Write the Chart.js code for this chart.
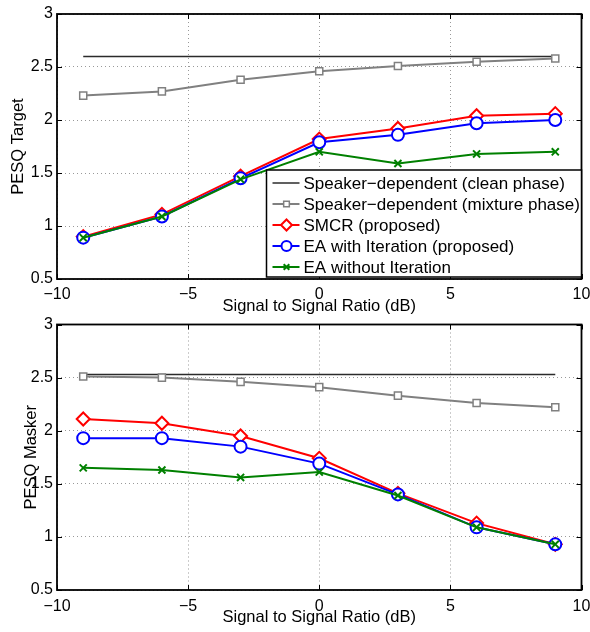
<!DOCTYPE html>
<html>
<head>
<meta charset="utf-8">
<script src="https://cdn.jsdelivr.net/npm/chart.js@4.4.0/dist/chart.umd.min.js"></script>
<style>
  html, body { margin: 0; padding: 0; background: #fff; }
  canvas { display: block; }
</style>
</head>
<body>
<canvas id="targetChart" width="590" height="316"></canvas>
<canvas id="maskerChart" width="590" height="316"></canvas>
<script>
// x positions (dB) and axis ticks
const snrValues = [-9, -6, -3, 0, 3, 6, 9];
const xTicks = [-10, -5, 0, 5, 10];
const xTickLabels = ['−10', '−5', '0', '5', '10'];
const yTicks = [0.5, 1, 1.5, 2, 2.5, 3];
const yTickLabels = ['0.5', '1', '1.5', '2', '2.5', '3'];

const seriesNames = [
  'Speaker−dependent (clean phase)',
  'Speaker−dependent (mixture phase)',
  'SMCR (proposed)',
  'EA with Iteration (proposed)',
  'EA without Iteration'
];

// PESQ Target (top panel)
const targetClean = [2.6, 2.6, 2.6, 2.6, 2.6, 2.6, 2.6];
const targetMixture = [2.23, 2.27, 2.38, 2.46, 2.51, 2.55, 2.58];
const targetSMCR = [0.9, 1.11, 1.47, 1.82, 1.92, 2.04, 2.06];
const targetEAIter = [0.89, 1.09, 1.45, 1.79, 1.86, 1.97, 2.0];
const targetEANoIter = [0.89, 1.09, 1.44, 1.70, 1.59, 1.68, 1.70];

// PESQ Masker (bottom panel)
const maskerClean = [2.53, 2.53, 2.53, 2.53, 2.53, 2.53, 2.53];
const maskerMixture = [2.51, 2.50, 2.46, 2.41, 2.33, 2.26, 2.22];
const maskerSMCR = [2.11, 2.07, 1.95, 1.74, 1.41, 1.13, 0.93];
const maskerEAIter = [1.93, 1.93, 1.85, 1.69, 1.40, 1.09, 0.93];
const maskerEANoIter = [1.65, 1.63, 1.56, 1.61, 1.39, 1.09, 0.93];

const FONT = "'Liberation Sans', Arial, Helvetica, sans-serif";

function toPoints(values) {
  return values.map((v, i) => ({ x: snrValues[i], y: v }));
}

function makeDatasets(clean, mixture, smcr, eaIter, eaNoIter) {
  return [
    { label: seriesNames[0], data: toPoints(clean), borderColor: '#2b2b2b', borderWidth: 1.5,
      pointRadius: 0, order: 5 },
    { label: seriesNames[1], data: toPoints(mixture), borderColor: '#808080', borderWidth: 2,
      pointStyle: 'rect', pointRadius: 5, pointBorderWidth: 1.5, pointBackgroundColor: '#fff', order: 4 },
    { label: seriesNames[2], data: toPoints(smcr), borderColor: '#ff0000', borderWidth: 2,
      pointStyle: 'rectRot', pointRadius: 6.5, pointBorderWidth: 2, pointBackgroundColor: '#fff', order: 3 },
    { label: seriesNames[3], data: toPoints(eaIter), borderColor: '#0000ff', borderWidth: 2,
      pointStyle: 'circle', pointRadius: 6, pointBorderWidth: 2, pointBackgroundColor: '#fff', order: 2 },
    { label: seriesNames[4], data: toPoints(eaNoIter), borderColor: '#008000', borderWidth: 2,
      pointStyle: 'crossRot', pointRadius: 5, pointBorderWidth: 2, order: 1 }
  ].map(d => Object.assign({ tension: 0, fill: false, pointBorderColor: d.borderColor }, d));
}

function drawLegend(chart) {
  const { ctx, chartArea: a } = chart;
  const rowH = 21;
  const datasets = chart.data.datasets;
  const w = 315, h = datasets.length * rowH + 2;
  const left = a.right - w, top = a.bottom - 2 - h;
  ctx.save();
  ctx.fillStyle = '#fff';
  ctx.fillRect(left, top, w, h);
  ctx.strokeStyle = '#000';
  ctx.lineWidth = 1.5;
  ctx.strokeRect(left, top, w, h);
  ctx.font = '17px ' + FONT;
  ctx.textBaseline = 'middle';
  datasets.forEach((ds, i) => {
    const cy = top + 13 + i * rowH;
    ctx.strokeStyle = ds.borderColor;
    ctx.lineWidth = ds.borderWidth;
    ctx.beginPath();
    ctx.moveTo(left + 6, cy);
    ctx.lineTo(left + 33, cy);
    ctx.stroke();
    if (ds.pointRadius > 0) {
      ctx.fillStyle = ds.pointBackgroundColor || '#fff';
      ctx.lineWidth = ds.pointBorderWidth;
      Chart.helpers.drawPoint(ctx, {
        pointStyle: ds.pointStyle, radius: ds.pointRadius - 1, borderWidth: ds.pointBorderWidth, rotation: 0
      }, left + 20, cy);
    }
    ctx.fillStyle = '#000';
    ctx.fillText(ds.label, left + 37, cy + 1);
  });
  ctx.restore();
}

// axes box with inward tick marks, like the original figure
const boxPlugin = {
  id: 'matlabBox',
  afterDraw(chart, args, opts) {
    const { ctx, chartArea: a, scales: { x, y } } = chart;
    ctx.save();
    ctx.strokeStyle = '#000';
    ctx.lineWidth = 1;
    ctx.beginPath();
    xTicks.forEach(v => {
      const px = Math.round(x.getPixelForValue(v)) + 0.5;
      ctx.moveTo(px, a.bottom); ctx.lineTo(px, a.bottom - 5);
      ctx.moveTo(px, a.top); ctx.lineTo(px, a.top + 5);
    });
    yTicks.forEach(v => {
      const py = Math.round(y.getPixelForValue(v)) + 0.5;
      ctx.moveTo(a.left, py); ctx.lineTo(a.left + 5, py);
      ctx.moveTo(a.right, py); ctx.lineTo(a.right - 5, py);
    });
    ctx.stroke();
    ctx.lineWidth = 1.8;
    ctx.strokeRect(a.left, a.top, a.right - a.left, a.bottom - a.top);
    ctx.restore();
    if (opts.legend) drawLegend(chart);
  }
};

function makeChart(id, yLabel, datasets, cfg) {
  return new Chart(document.getElementById(id), {
    type: 'line',
    data: { datasets },
    plugins: [boxPlugin],
    options: {
      responsive: false,
      devicePixelRatio: 1,
      animation: false,
      layout: { padding: { top: cfg.top, right: cfg.right, left: 0, bottom: 0 } },
      plugins: {
        legend: { display: false },
        tooltip: { enabled: false },
        matlabBox: { legend: cfg.legend }
      },
      scales: {
        x: {
          type: 'linear', min: -10, max: 10,
          afterBuildTicks: s => { s.ticks = xTicks.map(v => ({ value: v })); },
          afterFit: s => { s.height = cfg.xHeight; s.paddingLeft = 0; s.paddingRight = 0; },
          ticks: {
            autoSkip: false, maxRotation: 0, padding: cfg.xTickPad, color: '#000',
            font: { family: FONT, size: 16 },
            callback: v => xTickLabels[xTicks.indexOf(v)]
          },
          grid: { color: 'rgba(0,0,0,0.4)', lineWidth: 1, drawTicks: false },
          border: { display: false, dash: [1, 3] },
          title: {
            display: true, text: 'Signal to Signal Ratio (dB)', color: '#000',
            font: { family: FONT, size: 16.5, lineHeight: 1 },
            padding: { top: 0, bottom: cfg.xTitlePad }
          }
        },
        y: {
          type: 'linear', min: 0.5, max: 3,
          afterBuildTicks: s => { s.ticks = yTicks.map(v => ({ value: v })); },
          afterFit: s => { s.width = 57; s.paddingTop = 0; s.paddingBottom = 0; },
          ticks: {
            padding: 4, color: '#000',
            font: { family: FONT, size: 16 },
            callback: v => yTickLabels[yTicks.indexOf(v)]
          },
          grid: { color: 'rgba(0,0,0,0.4)', lineWidth: 1, drawTicks: false },
          border: { display: false, dash: [1, 3] },
          title: {
            display: true, text: yLabel, color: '#000',
            font: { family: FONT, size: 16.5, lineHeight: 1 },
            padding: { top: cfg.yTitlePad, bottom: 0 }
          }
        }
      }
    }
  });
}

makeChart('targetChart', 'PESQ Target',
  makeDatasets(targetClean, targetMixture, targetSMCR, targetEAIter, targetEANoIter),
  { top: 14, right: 5, xHeight: 37, xTickPad: 6, xTitlePad: 1, yTitlePad: 10, legend: true });

makeChart('maskerChart', 'PESQ Masker',
  makeDatasets(maskerClean, maskerMixture, maskerSMCR, maskerEAIter, maskerEANoIter),
  { top: 8, right: 8, xHeight: 42, xTickPad: 7, xTitlePad: 6, yTitlePad: 23, legend: false });
</script>
</body>
</html>
